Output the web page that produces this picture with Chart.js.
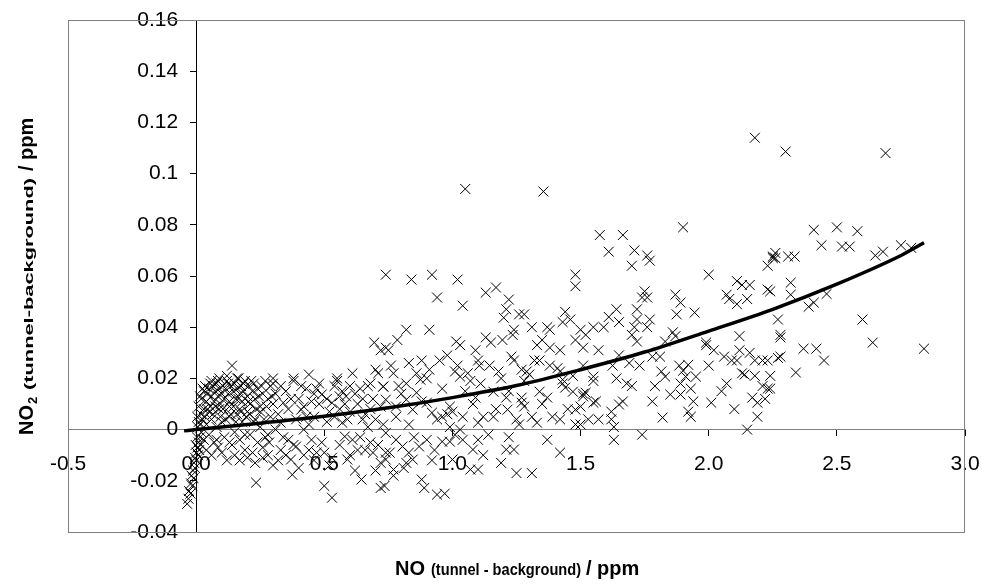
<!DOCTYPE html>
<html>
<head>
<meta charset="utf-8">
<script src="https://cdn.jsdelivr.net/npm/chart.js@4/dist/chart.umd.min.js"></script>
<style>
  body { margin: 0; background: #fff; }
  #wrap { position: relative; width: 982px; height: 584px; }
  #titles { position: absolute; left: 0; top: 0; }
</style>
</head>
<body>
<div id="wrap">
  <canvas id="chart" width="982" height="584"></canvas>
  <svg id="titles" width="982" height="584" font-family="Liberation Sans, Arial, sans-serif" font-weight="bold" fill="#000">
    <text x="395" y="575" font-size="20">NO</text>
    <text x="431" y="575" font-size="17" textLength="150" lengthAdjust="spacingAndGlyphs">(tunnel - background)</text>
    <text x="586" y="575" font-size="20">/ ppm</text>
    <g transform="translate(33,0) rotate(-90)">
      <text x="-435" y="0" font-size="20">NO</text>
      <text x="-404" y="4" font-size="13">2</text>
      <text x="-390" y="0" font-size="13" textLength="212" lengthAdjust="spacingAndGlyphs">(tunnel-background)</text>
      <text x="-171" y="0" font-size="20">/ ppm</text>
    </g>
  </svg>
</div>
<script>
// NO (x) and NO2 (y) differences, ppm
var noPpm = [
  -0.035,-0.03,-0.028,-0.022,-0.02,-0.018,-0.015,-0.012,-0.01,-0.008,-0.005,-0.004,0.0,0.002,0.005,-0.002,0.008,0.01,0.012,0.015,0.018,0.02,0.003,0.006,0.01,0.004,0.015,0.02,0.025,0.03,
  0.02,0.03,0.035,0.04,0.045,0.05,0.055,0.06,0.065,0.07,0.075,0.08,0.085,0.09,0.095,0.1,0.105,0.11,0.115,0.12,0.125,0.13,0.135,0.14,0.145,0.15,0.155,0.16,0.165,0.17,0.175,0.18,0.185,0.19,0.2,0.205,0.21,0.22,0.225,0.23,0.24,0.25,0.26,0.27,0.28,0.29,0.3,0.12,0.16,0.06,0.09,
  0.03,0.04,0.05,0.06,0.07,0.08,0.085,0.1,0.11,0.12,0.13,0.14,0.15,0.16,0.17,0.18,0.19,0.2,0.21,0.22,0.23,0.24,0.234,0.25,0.26,0.27,0.28,0.29,0.3,0.05,0.09,0.13,0.17,0.21,0.25,
  0.30,0.30,0.34,0.32,0.33,0.35,0.36,0.37,0.375,0.38,0.38,0.39,0.40,0.41,0.42,0.43,0.44,0.45,0.46,0.47,0.48,0.49,0.50,0.50,0.51,0.52,0.53,0.53,0.54,0.55,0.55,0.56,0.57,0.58,0.585,0.59,0.60,0.61,0.62,0.63,0.64,0.645,0.65,0.66,0.67,0.68,0.69,0.695,0.70,0.71,0.72,0.72,0.72,0.72,0.73,
  0.35,0.40,0.44,0.46,0.48,0.56,0.60,0.62,0.66,0.68,0.70,0.31,0.33,0.42,0.57,0.64,0.69,0.52,0.39,0.46,
  0.74,0.84,0.92,1.02,0.94,1.04,1.13,1.17,1.22,1.48,1.48,1.44,1.21,1.20,1.26,1.28,1.31,1.37,1.38,1.43,1.46,1.50,0.82,0.91,0.785,0.74,0.75,1.015,1.03,1.13,1.15,1.195,1.235,1.24,1.33,1.35,1.38,1.42,1.48,1.51,
  1.09,1.10,0.95,0.98,0.88,0.83,0.76,0.77,0.86,0.875,0.91,1.01,1.02,1.03,1.07,1.105,1.145,1.18,1.23,1.24,1.27,1.29,1.30,1.34,1.38,1.42,1.43,1.44,1.43,1.47,1.51,1.50,1.48,1.48,1.42,1.37,1.34,1.27,1.27,1.28,1.31,1.33,1.26,1.21,1.215,1.16,1.16,1.12,1.09,1.10,1.04,1.0,0.99,0.99,0.94,0.92,0.96,0.90,0.845,0.82,0.78,0.74,0.73,0.79,0.86,0.82,
  0.74,0.78,0.805,0.83,0.845,0.82,0.87,0.90,0.755,0.74,0.77,0.735,0.77,0.88,0.89,0.94,0.97,0.96,0.99,1.03,1.04,1.08,1.10,1.07,1.10,1.21,1.22,1.24,1.25,1.31,1.37,1.42,1.00,
  1.575,1.665,1.90,1.61,1.71,1.76,1.77,1.70,2.00,2.23,2.25,2.26,2.11,2.13,2.16,2.07,2.08,2.11,2.15,2.23,1.75,1.76,1.74,1.87,1.89,1.875,1.945,1.64,1.61,1.65,1.72,1.72,1.77,1.52,1.55,1.59,1.70,1.71,1.76,1.72,1.86,1.87,1.83,
  1.99,1.99,2.02,2.06,2.09,2.11,2.12,2.16,2.18,2.21,2.23,2.28,2.27,2.28,1.57,1.65,1.51,1.625,1.69,1.73,1.78,1.81,1.815,1.83,1.885,1.90,1.91,1.92,1.89,1.95,2.00,2.07,2.14,2.18,2.21,2.23,2.17,2.19,2.01,
  1.55,1.55,1.52,1.56,1.55,1.64,1.68,1.70,1.665,1.65,1.62,1.62,1.57,1.53,1.63,1.63,1.74,1.78,1.82,1.79,1.85,1.89,1.93,1.94,1.92,1.93,1.50,1.51,
  2.30,2.69,2.41,2.50,2.58,2.44,2.52,2.55,2.65,2.68,2.75,2.79,2.25,2.26,2.31,2.335,2.32,2.32,2.24,2.46,2.41,2.39,2.60,2.28,2.37,2.42,2.45,2.27,2.64,2.84,2.34,2.24,
  1.05,1.355,2.18,2.05,2.10,2.13,2.19,2.22,2.15,2.24,2.12,
  0.01,0.015,0.025,0.035,0.045,0.055,0.065,0.075,0.085,0.095,0.105,0.115,0.125,0.135,0.145,0.155,0.165,0.175,0.185,0.195,0.205,0.215,0.225,0.235,0.245,0.255,0.265,0.275,0.285,0.295,
  0.04,0.06,0.08,0.1,0.13,0.15,0.17,0.19,0.2,0.23,0.26,0.28,
  0.31,0.32,0.33,0.34,0.36,0.37,0.38,0.41,0.42,0.43,0.45,0.47,0.49,0.51,0.53,0.54,0.56,0.58,0.59,0.61,0.63,0.65,0.67,0.68,0.70,0.71,0.73,0.74,0.60,0.44,
  0.78,0.80,0.83,0.85,0.88,0.90,0.93,0.96,0.98,1.01,1.05,1.06,1.08,1.11,1.14,1.17,1.19,1.22,1.25,1.28,1.32,1.35,1.39,1.41,1.45,1.47,0.81,0.92,1.12,1.19
];
var no2Ppm = [
  -0.029,-0.027,-0.024,-0.025,-0.021,-0.018,-0.022,-0.016,-0.019,-0.013,-0.015,-0.011,-0.012,-0.009,-0.007,-0.006,-0.01,-0.005,-0.008,-0.003,-0.006,-0.001,-0.003,0.001,0.003,0.005,0.002,0.006,0.004,0.008,
  0.012,0.015,0.017,0.011,0.014,0.016,0.009,0.013,0.017,0.011,0.015,0.018,0.013,0.016,0.010,0.014,0.017,0.012,0.016,0.019,0.014,0.011,0.017,0.025,0.015,0.018,0.012,0.016,0.020,0.014,0.017,0.011,0.015,0.019,0.013,0.017,0.010,0.015,0.018,0.012,0.016,0.009,0.014,0.019,0.012,0.017,0.010,0.021,0.020,0.019,0.020,
  -0.004,0.002,-0.002,0.004,-0.005,0.001,-0.007,0.003,-0.003,-0.012,0.005,-0.006,-0.001,0.006,-0.004,0.003,-0.008,0.007,-0.002,-0.009,0.004,-0.005,-0.0207,0.001,-0.007,-0.003,-0.010,0.005,-0.014,0.007,0.008,0.009,0.008,0.006,0.007,
  0.018,0.020,0.0105,0.006,0.0027,0.015,-0.004,-0.0117,-0.0176,0.019,0.020,-0.0066,0.012,0.0078,0.0,0.016,0.0215,-0.004,0.005,-0.009,0.010,0.0137,-0.009,-0.022,0.003,-0.014,0.0105,-0.0266,0.017,0.019,0.020,-0.006,0.0027,-0.0027,0.013,-0.0117,0.007,0.022,-0.016,0.010,0.016,-0.0195,0.004,-0.008,0.001,-0.005,0.012,0.034,0.0234,0.022,0.031,0.009,-0.013,-0.0228,0.0168,
  -0.010,-0.015,0.002,-0.012,0.018,0.008,-0.010,0.014,0.006,0.018,-0.016,0.0,-0.008,0.009,0.015,-0.003,-0.009,0.007,0.004,0.014,
  0.0605,0.0586,0.0605,0.0586,0.0516,0.0484,0.0535,0.0555,0.0508,0.0605,0.056,0.046,0.047,0.0437,0.045,0.045,0.040,0.040,0.039,0.042,0.043,0.039,0.039,0.039,0.035,0.032,0.031,0.0344,0.033,0.036,0.034,0.035,0.037,0.039,0.033,0.035,0.032,0.031,0.035,0.032,
  0.031,0.027,0.027,0.029,0.027,0.026,0.025,0.022,0.022,0.0195,0.0234,0.0227,0.025,0.0207,0.019,0.025,0.025,0.0227,0.0285,0.027,0.0234,0.0227,0.0215,0.027,0.025,0.0227,0.0195,0.0164,0.018,0.0148,0.014,0.009,0.0078,0.002,0.004,0.0125,0.0148,0.0125,0.0105,0.009,0.005,0.0027,0.002,0.0125,0.0078,0.0148,0.005,0.005,0.0125,0.0027,0.005,0.007,0.009,0.001,0.004,0.0066,0.005,0.0105,0.0078,0.0117,0.009,0.0117,0.0168,0.017,0.0144,0.018,
  -0.0013,-0.004,-0.0066,-0.009,-0.0117,-0.013,-0.0066,-0.004,-0.009,-0.0117,-0.0156,-0.022,-0.018,-0.0195,-0.0228,-0.0254,-0.025,-0.0047,-0.0047,0.0,-0.004,-0.0078,-0.004,-0.0156,-0.0156,-0.0078,-0.003,-0.0078,-0.017,-0.017,-0.004,-0.009,-0.0117,
  0.076,0.076,0.079,0.0695,0.070,0.068,0.066,0.064,0.0605,0.064,0.067,0.069,0.058,0.0565,0.0565,0.0527,0.051,0.049,0.051,0.0547,0.054,0.0516,0.0516,0.0527,0.0496,0.045,0.0457,0.047,0.044,0.042,0.047,0.043,0.043,0.037,0.040,0.040,0.037,0.040,0.040,0.0344,0.038,0.0365,0.0344,
  0.034,0.033,0.031,0.0285,0.027,0.027,0.0365,0.030,0.027,0.027,0.027,0.036,0.043,0.0285,0.031,0.029,0.025,0.025,0.026,0.025,0.0285,0.0285,0.0227,0.0207,0.025,0.023,0.0207,0.0253,0.018,0.0207,0.025,0.018,0.0215,0.021,0.017,0.016,0.0125,0.0105,0.0105,
  0.0207,0.019,0.0144,0.011,0.0105,0.020,0.018,0.017,0.011,0.0098,0.007,0.004,0.004,0.004,0.001,-0.004,-0.002,0.011,0.0047,0.017,0.0137,0.0137,0.016,0.011,0.007,0.005,0.002,0.013,
  0.1086,0.108,0.078,0.079,0.0775,0.072,0.0715,0.0715,0.068,0.0695,0.072,0.071,0.0676,0.067,0.0676,0.0676,0.0574,0.0527,0.054,0.053,0.0496,0.048,0.043,0.037,0.0316,0.0316,0.027,0.028,0.034,0.0316,0.0223,0.016,
  0.094,0.093,0.114,0.015,0.008,0.022,0.005,0.012,0.0,0.021,0.031,
  0.009,0.013,0.016,0.005,0.008,0.018,0.006,0.009,0.019,0.005,0.008,0.004,0.018,0.006,0.009,0.003,0.012,0.007,0.018,0.005,0.011,0.019,0.003,0.008,0.013,0.017,0.004,0.009,-0.005,0.013,
  -0.008,-0.010,-0.004,-0.009,-0.005,-0.010,-0.012,-0.002,-0.011,-0.013,-0.011,-0.002,
  0.014,-0.012,0.017,-0.003,0.008,0.012,-0.006,0.017,-0.010,0.005,0.011,0.016,-0.005,0.012,-0.011,0.005,0.013,0.010,0.004,-0.004,-0.008,0.012,0.017,0.008,0.004,-0.006,0.002,-0.009,0.017,-0.008,
  0.005,0.014,0.002,-0.003,0.011,0.020,-0.008,0.016,0.006,-0.002,0.015,0.022,0.010,0.018,-0.002,0.008,0.020,0.015,0.004,0.019,0.027,0.010,0.005,0.024,0.008,0.021,-0.015,-0.012,-0.010,-0.013
];

// fitted curve
var fitNo  = [-0.047, 0.0, 0.25, 0.5, 0.75, 1.0, 1.25, 1.5, 1.75, 2.0, 2.25, 2.5, 2.75, 2.84];
var fitNo2 = [-0.0005, 0.0, 0.0025, 0.0052, 0.0085, 0.0125, 0.0172, 0.0234, 0.0303, 0.0385, 0.047, 0.0568, 0.068, 0.073];

var yTickLabels = ['-0.04','-0.02','0','0.02','0.04','0.06','0.08','0.1','0.12','0.14','0.16'];
var xTickLabels = ['-0.5','0.0','0.5','1.0','1.5','2.0','2.5','3.0'];

var scatterPoints = noPpm.map(function(x, i){ return { x: x, y: no2Ppm[i] }; });
var fitPoints = fitNo.map(function(x, i){ return { x: x, y: fitNo2[i] }; });

// grey frame round the plot area
var framePlugin = {
  id: 'frame',
  beforeDatasetsDraw: function(chart){
    var a = chart.chartArea, ctx = chart.ctx;
    ctx.save();
    ctx.strokeStyle = '#808080';
    ctx.lineWidth = 1;
    ctx.strokeRect(a.left + 0.5, a.top + 0.5, a.right - a.left - 1, a.bottom - a.top);
    ctx.restore();
  }
};

// y labels of an axis crossing at x=0 sit flush on the axis; push them left a bit
var yLabelGap = {
  id: 'yLabelGap',
  beforeDraw: function(chart){
    var items = chart.scales.y.getLabelItems(chart.chartArea);
    items.forEach(function(it){
      if(!it._moved){ it.options.translation[0] -= 18; it._moved = true; }
    });
  }
};

function noPadding(scale){
  scale.paddingLeft = 0; scale.paddingRight = 0; scale.paddingTop = 0; scale.paddingBottom = 0;
}

var tickFont = { family: "'Liberation Sans', Arial, sans-serif", size: 21 };

new Chart(document.getElementById('chart').getContext('2d'), {
  type: 'scatter',
  data: {
    datasets: [
      {
        type: 'line',
        data: fitPoints,
        borderColor: '#000',
        borderWidth: 3.5,
        pointRadius: 0,
        fill: false,
        cubicInterpolationMode: 'monotone',
        order: 0
      },
      {
        data: scatterPoints,
        pointStyle: 'crossRot',
        pointRadius: 7,
        pointBorderWidth: 1,
        borderColor: '#000',
        backgroundColor: '#000',
        order: 1
      }
    ]
  },
  options: {
    responsive: false,
    animation: false,
    devicePixelRatio: 1,
    layout: { padding: { left: 68, top: 20, right: 17, bottom: 52 } },
    plugins: { legend: { display: false }, tooltip: { enabled: false } },
    scales: {
      x: {
        type: 'linear',
        position: { y: 0 },
        min: -0.5, max: 3.0,
        afterBuildTicks: function(s){ s.ticks = xTickLabels.map(function(t){ return { value: parseFloat(t) }; }); },
        afterFit: noPadding,
        ticks: {
          font: tickFont, color: '#000', padding: 16, maxRotation: 0, autoSkip: false,
          callback: function(v){ return v.toFixed(1); }
        },
        grid: { drawOnChartArea: false, drawTicks: true, tickLength: 6, color: '#000' },
        border: { color: '#808080', width: 1 }
      },
      y: {
        type: 'linear',
        position: { x: 0 },
        min: -0.04, max: 0.16,
        afterBuildTicks: function(s){ s.ticks = yTickLabels.map(function(t){ return { value: parseFloat(t) }; }); },
        afterFit: noPadding,
        ticks: {
          font: tickFont, color: '#000', padding: 10, autoSkip: false,
          callback: function(v){ return String(+v.toFixed(2)); }
        },
        grid: { drawOnChartArea: false, drawTicks: true, tickLength: 6, color: '#000' },
        border: { color: '#000', width: 1 }
      }
    }
  },
  plugins: [framePlugin, yLabelGap]
});
</script>
</body>
</html>
